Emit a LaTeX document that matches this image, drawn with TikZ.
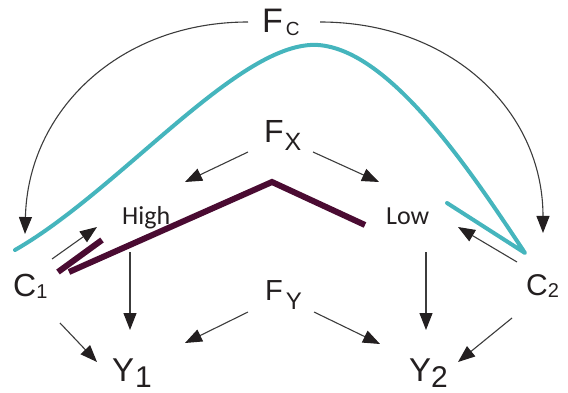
\documentclass[tikz,border=0pt]{standalone}
\usepackage{fontspec}
\setmainfont{Liberation Sans}
\newfontfamily\calib{Carlito}
\usetikzlibrary{arrows.meta}
\definecolor{txt}{HTML}{231F20}
\definecolor{tealc}{HTML}{45B5BD}
\definecolor{maroonc}{HTML}{4A0B32}
\definecolor{arr}{HTML}{3C3C3C}
\newcommand\myfs[1]{\fontsize{#1}{#1}\selectfont}
\begin{document}
\begin{tikzpicture}[x=1pt,y=-1pt,
  lbl/.style={inner sep=0pt, anchor=base west, text=txt},
  conn/.style={draw=arr, line width=1.1pt, -{Triangle[length=17pt,width=13pt,color=txt]}},
  tealline/.style={draw=tealc, line width=4pt, line join=round, line cap=round},
  maroonline/.style={draw=maroonc, line width=6pt, line join=miter}]
\useasboundingbox (0,0) rectangle (568,393);
% labels
\node[lbl] (fc) at (262,33) {\myfs{34}F\kern3pt\raisebox{-3pt}{\myfs{19}C}};
\node[lbl] (fx) at (264,143) {\myfs{32}F\kern1pt\raisebox{-8pt}{\myfs{25}X}};
\node[lbl] (fy) at (265,300) {\myfs{29}F\kern3pt\raisebox{-9pt}{\myfs{24}Y}};
\node[lbl] (c1) at (13,296) {\myfs{32}C\raisebox{-2pt}{\myfs{20}1}};
\node[lbl] (c2) at (526,295) {\myfs{30}C\raisebox{-2pt}{\myfs{20}2}};
\node[lbl] (y1) at (112,381) {\myfs{33}Y\kern1pt\raisebox{-6pt}{\myfs{30}1}};
\node[lbl] (y2) at (409,381) {\myfs{33}Y\raisebox{-6pt}{\myfs{30}2}};
\node[lbl] (high) at (122,225) {\calib\myfs{26}High};
\node[lbl] (low) at (386,225) {\calib\myfs{26}Low};
% connector end points
\coordinate (fcL) at (248,22);
\coordinate (fcR) at (320,22);
\coordinate (c1in) at (25,234);
\coordinate (c2in) at (543,233);
\coordinate (fxL) at (248,152);
\coordinate (fxR) at (313,152);
\coordinate (highin) at (185,182);
\coordinate (lowin) at (379,182);
\coordinate (c1out) at (52,259);
\coordinate (highc) at (97,227);
\coordinate (c2out) at (517,262);
\coordinate (lowc) at (458,227);
\coordinate (highout) at (130,252);
\coordinate (y1top) at (130,330);
\coordinate (lowout) at (426,252);
\coordinate (y2top) at (426,330);
\coordinate (c1low) at (60,323);
\coordinate (y1l) at (97,362);
\coordinate (fyL) at (248,312);
\coordinate (y1r) at (185,343);
\coordinate (fyR) at (314,312);
\coordinate (y2l) at (380,344);
\coordinate (c2low) at (512,318);
\coordinate (y2r) at (458,362);
% curved arrows from F_C
\draw[conn] (fcL) .. controls (120,22) and (28,110) .. (c1in);
\draw[conn] (fcR) .. controls (450,22) and (543,110) .. (c2in);
% straight arrows
\draw[conn] (fxL) -- (highin);
\draw[conn] (fxR) -- (lowin);
\draw[conn] (c1out) -- (highc);
\draw[conn] (c2out) -- (lowc);
\draw[conn] (highout) -- (y1top);
\draw[conn] (lowout) -- (y2top);
\draw[conn] (c1low) -- (y1l);
\draw[conn] (fyL) -- (y1r);
\draw[conn] (fyR) -- (y2l);
\draw[conn] (c2low) -- (y2r);
% teal curve
\draw[tealline] (15,250) .. controls (120,190) and (240,40) .. (318,45)
  .. controls (390,50) and (470,170) .. (525,253) -- (447,203);
% maroon lines
\draw[maroonline] (58,272) -- (102,240);
\draw[maroonline] (69,272) -- (272,182) -- (365,225);
\end{tikzpicture}
\end{document}
